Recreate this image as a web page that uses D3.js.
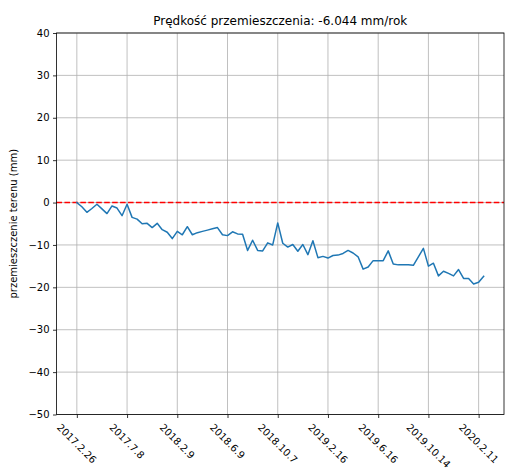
<!DOCTYPE html>
<html><head><meta charset="utf-8">
<script src="https://cdn.jsdelivr.net/npm/d3@7"></script>
<style>body{margin:0;background:#fff;} text{font-family:"DejaVu Sans",sans-serif;}</style>
</head><body>
<svg id="c" width="509" height="469"></svg>
<script>
const title = "Prędkość przemieszczenia: -6.044 mm/rok";
const yLabel = "przemieszczenie terenu (mm)";
const values = [0,-1.0,-2.3,-1.4,-0.4,-1.5,-2.6,-0.8,-1.3,-3.1,
  -0.4,-3.5,-3.9,-5.0,-4.9,-5.9,-4.9,-6.4,-7.0,-8.5,
  -6.8,-7.6,-5.7,-7.6,-7.1,-6.8,-6.5,-6.2,-5.9,-7.6,
  -7.8,-6.9,-7.4,-7.5,-11.3,-8.9,-11.3,-11.4,-9.5,-10.0,
  -4.8,-9.6,-10.5,-9.9,-11.5,-9.9,-12.3,-9.0,-13.0,-12.7,
  -13.1,-12.5,-12.4,-12.0,-11.3,-11.9,-12.8,-15.7,-15.2,-13.7,
  -13.7,-13.7,-11.4,-14.5,-14.7,-14.7,-14.7,-14.8,-12.8,-10.8,
  -15.0,-14.3,-17.3,-16.2,-16.7,-17.3,-15.8,-17.9,-17.9,-19.2,
  -18.8,-17.4];
const tickIdx = [0,10,20,30,40,50,60,70,80];
const tickLabels = ["2017.2.26","2017.7.8","2018.2.9","2018.6.9","2018.10.7","2019.2.16","2019.6.16","2019.10.14","2020.2.11"];
const yTicks = [-50,-40,-30,-20,-10,0,10,20,30,40];

const L=56.5, R=504, T=33, B=414.5;
const svg = d3.select("#c");
const n = values.length - 1;
const x = d3.scaleLinear().domain([-0.05*n, 1.05*n]).range([L, R]);
const y = d3.scaleLinear().domain([-50, 40]).range([B, T]);

// grid
const g = svg.append("g");
g.selectAll(".gx").data(tickIdx).join("line")
  .attr("x1", d=>x(d)).attr("x2", d=>x(d)).attr("y1", T).attr("y2", B)
  .attr("stroke", "#b0b0b0").attr("stroke-width", 0.8);
g.selectAll(".gy").data(yTicks).join("line")
  .attr("x1", L).attr("x2", R).attr("y1", d=>y(d)).attr("y2", d=>y(d))
  .attr("stroke", "#b0b0b0").attr("stroke-width", 0.8);

// zero line
svg.append("line").attr("x1", L).attr("x2", R).attr("y1", y(0)).attr("y2", y(0))
  .attr("stroke", "#ff0000").attr("stroke-width", 1.5).attr("stroke-dasharray", "5.55,2.4");

// data line
svg.append("path").datum(values)
  .attr("fill", "none").attr("stroke", "#1f77b4").attr("stroke-width", 1.5)
  .attr("stroke-linejoin", "round").attr("stroke-linecap", "square")
  .attr("d", d3.line().x((d,i)=>x(i)).y(d=>y(d)));

// frame
svg.append("rect").attr("x", L).attr("y", T).attr("width", R-L).attr("height", B-T)
  .attr("fill", "none").attr("stroke", "#000").attr("stroke-width", 0.8);

// y axis
const ya = svg.append("g").attr("transform", `translate(${L},0)`)
  .call(d3.axisLeft(y).tickValues(yTicks).tickSize(3.5).tickPadding(3.5)
    .tickFormat(d => d < 0 ? "\u2212" + Math.abs(d) : String(d)));
ya.select(".domain").remove();
ya.selectAll(".tick line").attr("stroke", "#000").attr("stroke-width", 0.8);
ya.selectAll("text").attr("font-size", 10).attr("fill", "#000").style("font-family", "DejaVu Sans");

// x axis
const xa = svg.append("g").attr("transform", `translate(0,${B})`)
  .call(d3.axisBottom(x).tickValues(tickIdx).tickSize(3.5).tickFormat(""));
xa.select(".domain").remove();
xa.selectAll(".tick line").attr("stroke", "#000").attr("stroke-width", 0.8);

const s = Math.SQRT1_2;
tickIdx.forEach((t, k) => {
  const txt = svg.append("text").text(tickLabels[k])
    .attr("font-size", 10).attr("fill", "#000").attr("text-anchor", "middle")
    .attr("dominant-baseline", "central");
  const w = txt.node().getComputedTextLength();
  const h = 11.6;
  const bh = (w + h) * s;
  const cx = x(t), cy = B + 7 + bh / 2;
  txt.attr("transform", `translate(${cx},${cy}) rotate(45)`);
});

// title
svg.append("text").text(title).attr("x", (L+R)/2).attr("y", 25)
  .attr("text-anchor", "middle").attr("font-size", 12).attr("fill", "#000");

// y label
svg.append("text").text(yLabel)
  .attr("transform", `translate(17,${(T+B)/2}) rotate(-90)`)
  .attr("text-anchor", "middle").attr("font-size", 10).attr("fill", "#000");
</script>
</body></html>
